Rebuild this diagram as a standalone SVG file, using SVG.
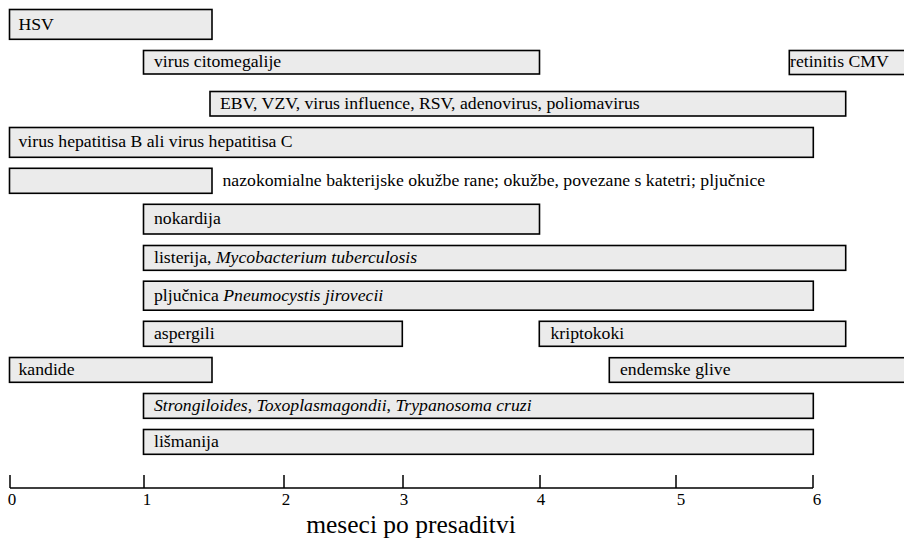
<svg xmlns="http://www.w3.org/2000/svg" width="904" height="539" viewBox="0 0 904 539">
<style>
.b{fill:#ebebeb;stroke:#000;stroke-width:1.6}
.t{font-family:"Liberation Serif","Times New Roman",serif;font-size:17.7px;fill:#000}
.i{font-style:italic}
.ax{stroke:#000;stroke-width:1.5;fill:none}
.n{font-family:"Liberation Serif","Times New Roman",serif;font-size:17px;fill:#000;text-anchor:middle}
.xl{font-family:"Liberation Serif","Times New Roman",serif;font-size:25.5px;fill:#000;text-anchor:middle}
</style>
<rect width="904" height="539" fill="#fff"/>
<g id="hsv"><rect class="b" x="9.5" y="9.5" width="202.5" height="29.8"/><text class="t" x="18.5" y="29.5">HSV</text></g>
<g id="cmv"><rect class="b" x="143.5" y="50.5" width="396" height="23.5"/><text class="t" x="154" y="67">virus citomegalije</text></g>
<g id="retinitis"><rect class="b" x="789.3" y="50.5" width="116" height="24"/><text class="t" x="790" y="67">retinitis CMV</text></g>
<g id="ebv"><rect class="b" x="210" y="91.5" width="635.7" height="24.5"/><text class="t" x="220" y="109">EBV, VZV, virus influence, RSV, adenovirus, poliomavirus</text></g>
<g id="hep"><rect class="b" x="9.5" y="127.5" width="803.8" height="29.8"/><text class="t" x="18.5" y="147">virus hepatitisa B ali virus hepatitisa C</text></g>
<g id="nazo"><rect class="b" x="9.5" y="168.3" width="202.5" height="25"/><text class="t" x="222.5" y="186">nazokomialne bakterijske okužbe rane; okužbe, povezane s katetri; pljučnice</text></g>
<g id="nokardija"><rect class="b" x="143.5" y="204.3" width="396" height="29.7"/><text class="t" x="154" y="224">nokardija</text></g>
<g id="listerija"><rect class="b" x="143.5" y="245.5" width="702.2" height="24.8"/><text class="t" x="154" y="263">listerija, <tspan class="i">Mycobacterium tuberculosis</tspan></text></g>
<g id="pljucnica"><rect class="b" x="143.5" y="281.2" width="669.8" height="29"/><text class="t" x="154" y="301">pljučnica <tspan class="i">Pneumocystis jirovecii</tspan></text></g>
<g id="aspergili"><rect class="b" x="143.5" y="321.3" width="258.8" height="25"/><text class="t" x="154" y="339">aspergili</text></g>
<g id="kriptokoki"><rect class="b" x="539.3" y="321.3" width="306.4" height="25"/><text class="t" x="550.5" y="339">kriptokoki</text></g>
<g id="kandide"><rect class="b" x="9.5" y="357.5" width="202.5" height="24.8"/><text class="t" x="18.5" y="375">kandide</text></g>
<g id="endemske"><rect class="b" x="609.3" y="357.7" width="296" height="24.6"/><text class="t" x="620" y="375">endemske glive</text></g>
<g id="strongiloides"><rect class="b" x="143.5" y="393.5" width="669.8" height="24.8"/><text class="t" x="154" y="411"><tspan class="i">Strongiloides</tspan>, <tspan class="i">Toxoplasmagondii</tspan>, <tspan class="i">Trypanosoma cruzi</tspan></text></g>
<g id="lismanija"><rect class="b" x="143.5" y="429.5" width="669.8" height="24.8"/><text class="t" x="154" y="447">lišmanija</text></g>
<g id="connectors">
<path class="ax" d="M10 488H813M10 475V488M144 475V488M284 475V488M403 475V488M540 475V488M676 475V488M813 475V488"/>
</g>
<g id="axis-labels">
<text class="n" x="12" y="505">0</text>
<text class="n" x="147" y="505">1</text>
<text class="n" x="286" y="505">2</text>
<text class="n" x="404" y="505">3</text>
<text class="n" x="541" y="505">4</text>
<text class="n" x="681" y="505">5</text>
<text class="n" x="817" y="505">6</text>
<text class="xl" x="411" y="533">meseci po presaditvi</text>
</g>
</svg>
